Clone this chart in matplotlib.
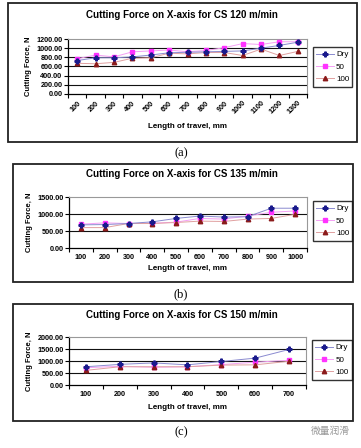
import matplotlib
matplotlib.use("Agg")
import matplotlib.pyplot as plt
from matplotlib.patches import Rectangle

plt.rcParams['font.family'] = ['Liberation Sans', 'DejaVu Sans']

# panel (a): CS 120 m/min
len_a = ['100', '200', '300', '400', '500', '600', '700', '800', '900', '1000', '1100', '1200', '1300']
dry_a = [730, 790, 790, 810, 850, 900, 910, 920, 930, 940, 1000, 1060, 1130]
f50_a = [770, 850, 810, 920, 940, 960, 920, 950, 1010, 1100, 1080, 1140, 1140]
f100_a = [670, 660, 690, 780, 790, 890, 875, 905, 905, 840, 980, 840, 930]

# panel (b): CS 135 m/min
len_b = ['100', '200', '300', '400', '500', '600', '700', '800', '900', '1000']
dry_b = [680, 690, 720, 770, 870, 940, 910, 920, 1170, 1170]
f50_b = [700, 740, 720, 730, 760, 870, 850, 940, 1050, 1090]
f100_b = [600, 600, 720, 720, 750, 790, 780, 850, 870, 990]

# panel (c): CS 150 m/min
len_c = ['100', '200', '300', '400', '500', '600', '700']
dry_c = [760, 860, 920, 840, 980, 1120, 1480]
f50_c = [720, 780, 740, 760, 850, 950, 1030]
f100_c = [610, 760, 760, 760, 830, 840, 990]

W, H = 361, 448
fig = plt.figure(figsize=(W / 100, H / 100), dpi=100)


def box(x0, y0, x1, y1):
    # pixel coords (top-left origin) -> figure fraction
    return [x0 / W, 1 - y1 / H, (x1 - x0) / W, (y1 - y0) / H]


def panel(frame, plot, legend_box, title, cats, dry, f50, f100, ymax, ystep,
          rotate, title_y, xlabel_y, caption, caption_y):
    fx0, fy0, fx1, fy1 = frame
    fig.patches.append(Rectangle((fx0 / W, 1 - fy1 / H), (fx1 - fx0) / W, (fy1 - fy0) / H,
                                 transform=fig.transFigure, fill=False,
                                 edgecolor='#222222', linewidth=1.3))
    ax = fig.add_axes(box(*plot))
    xs = list(range(1, len(cats) + 1))
    l1, = ax.plot(xs, dry, color='#8a8ad0', lw=0.7, marker='P', ms=3.5,
                  mfc='#1a1a8c', mec='#1a1a8c', label='Dry', zorder=4)
    l2, = ax.plot(xs, f50, color='#f4a0f4', lw=0.7, marker='s', ms=3.2,
                  mfc='#ff33ff', mec='#ff33ff', label='50', zorder=3)
    l3, = ax.plot(xs, f100, color='#e0a0a0', lw=0.7, marker='^', ms=3.2,
                  mfc='#8b1a1a', mec='#8b1a1a', label='100', zorder=3)
    ax.set_xlim(0.5, len(cats) + 0.5)
    ax.set_ylim(0, ymax)
    ticks = list(range(0, ymax + 1, ystep))
    ax.set_yticks(ticks)
    ax.set_yticklabels(['%.2f' % t for t in ticks], fontsize=5.2, fontweight='bold')
    for t in ticks[1:-1]:
        ax.axhline(t, color='#111111', lw=0.8, zorder=1)
    ax.set_xticks(xs)
    if rotate:
        ax.set_xticklabels(cats, fontsize=5.2, fontweight='bold', rotation=45,
                           ha='right', rotation_mode='anchor')
    else:
        ax.set_xticklabels(cats, fontsize=5.2, fontweight='bold')
    ax.set_xticks([x + 0.5 for x in range(0, len(cats) + 1)], minor=True)
    ax.tick_params(axis='x', which='major', length=0, pad=4)
    ax.tick_params(axis='x', which='minor', length=3, width=0.8, direction='out')
    ax.tick_params(axis='y', length=3, width=0.8, pad=1)
    ax.spines['top'].set_color('#999999')
    ax.spines['right'].set_color('#999999')
    ax.spines['left'].set_linewidth(0.9)
    ax.spines['bottom'].set_linewidth(0.9)
    ax.set_ylabel('Cutting Force, N', fontsize=5.5, fontweight='bold', labelpad=3)
    fig.text(182 / W, 1 - title_y / H, title, fontsize=7, fontweight='bold',
             ha='center', va='center')
    fig.text(188 / W, 1 - xlabel_y / H, 'Length of travel, mm', fontsize=5.8,
             fontweight='bold', ha='center', va='center')
    lx0, ly0, lx1, ly1 = legend_box
    fig.legend(handles=[l1, l2, l3], loc='center',
               bbox_to_anchor=((lx0 + lx1) / 2 / W, 1 - (ly0 + ly1) / 2 / H),
               fontsize=5.8, frameon=True, fancybox=False, edgecolor='black',
               handlelength=2.2, handletextpad=0.3, borderpad=0.4, labelspacing=0.6)
    fig.text(181 / W, 1 - caption_y / H, caption, fontsize=9, ha='center', va='center',
             family='Liberation Serif')
    return ax


panel((8, 3, 357, 142), (68, 39, 307, 94), (310, 48, 355, 86),
      'Cutting Force on X-axis for CS 120 m/min', len_a, dry_a, f50_a, f100_a,
      1200, 200, True, 15, 127, '(a)', 153)
panel((13, 164, 353, 282), (69, 197, 307, 248), (313, 205, 352, 237),
      'Cutting Force on X-axis for CS 135 m/min', len_b, dry_b, f50_b, f100_b,
      1500, 500, False, 174, 268, '(b)', 294)
panel((13, 304, 353, 421), (69, 337, 306, 385), (313, 343, 351, 377),
      'Cutting Force on X-axis for CS 150 m/min', len_c, dry_c, f50_c, f100_c,
      2000, 500, False, 315, 407, '(c)', 432)

fig.text(330 / W, 1 - 431 / H, '微量润滑', fontsize=7, color='#999999',
         ha='center', va='center', family=['Noto Sans CJK SC', 'DejaVu Sans'])

fig.savefig('out.png', dpi=100)
